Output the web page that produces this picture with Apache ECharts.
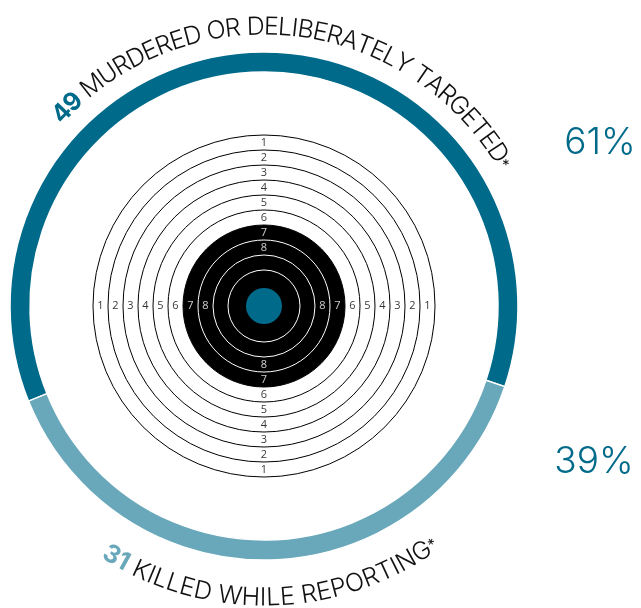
<!DOCTYPE html>
<html>
<head>
<meta charset="utf-8">
<script src="https://cdn.jsdelivr.net/npm/echarts@6/dist/echarts.min.js"></script>
<style>
html,body{margin:0;padding:0;background:#fff;}
#chart{width:641px;height:608px;}
</style>
</head>
<body>
<div id="chart"></div>
<script>
// ---- data ----
const categories = ['MURDERED OR DELIBERATELY TARGETED', 'KILLED WHILE REPORTING'];
const counts = [49, 31];
const ringLabels = ['1', '2', '3', '4', '5', '6', '7', '8'];
const labelAngles = [0, 90, 180, 270];

// ---- style ----
const DARK = '#006a8a';
const LIGHT = '#69a8ba';
const FONT = "Inter, 'Liberation Sans', Arial, sans-serif";
const CX = 264, CY = 306;

const total = counts.reduce((a, b) => a + b, 0);
const percents = counts.map(c => Math.round(c / total * 100) + '%');

const chart = echarts.init(document.getElementById('chart'), null, {renderer: 'canvas'});

const mctx = document.createElement('canvas').getContext('2d');
function arcText(segs, cx, cy, rMid, a0, a1, outward) {
  const items = [];
  let tot = 0;
  segs.forEach(s => {
    s.font = (s.weight || 300) + ' ' + s.size + 'px ' + FONT;
    mctx.font = s.font;
    s.chars = Array.from(s.text).map(ch => ({ch, w: mctx.measureText(ch).width}));
    s.chars.forEach(c => tot += c.w);
  });
  const k = (a1 - a0) * Math.PI / 180 / tot;
  let acc = 0;
  segs.forEach(s => s.chars.forEach(c => {
    const th = a0 * Math.PI / 180 + (acc + c.w / 2) * k;
    acc += c.w;
    if (c.ch === ' ') return;
    const rr = rMid + (s.dr || 0);
    items.push({
      type: 'text', silent: true, z: 10,
      x: cx + rr * Math.cos(th), y: cy - rr * Math.sin(th),
      rotation: outward ? th - Math.PI / 2 : th + Math.PI / 2,
      style: {text: c.ch, font: s.font, fill: s.color,
        align: 'center', verticalAlign: 'middle', textAlign: 'center', textVerticalAlign: 'middle'}
    });
  }));
  return items;
}

const topText = arcText([
  {text: String(counts[0]), size: 25, weight: 700, color: DARK},
  {text: ' ' + categories[0], size: 25, weight: 300, color: '#111'},
  {text: '*', size: 15, weight: 400, color: '#111', dr: -1}
], CX, CY, 279, 138, 30, true);

const bottomText = arcText([
  {text: String(counts[1]), size: 25, weight: 700, color: LIGHT},
  {text: ' ' + categories[1], size: 25, weight: 300, color: '#111'},
  {text: '*', size: 15, weight: 400, color: '#111', dr: 0}
], CX, CY, 292, 237, 306, false);

const labelData = [];
ringLabels.forEach((lab, i) => {
  labelAngles.forEach(a => {
    labelData.push({
      value: [8.5 - i, a, i],
      label: {color: i >= 6 ? '#fff' : '#000'}
    });
  });
});

const lineColors = ['#fff', '#fff', '#fff', '#000', '#000', '#000', '#000', '#000', '#000', '#000'];

chart.setOption({
  animation: false,
  polar: {center: [CX, CY], radius: [36, 171]},
  radiusAxis: {
    type: 'value', min: 0, max: 9, interval: 1, z: 5,
    axisLine: {show: false}, axisTick: {show: false}, axisLabel: {show: false},
    splitLine: {show: true, lineStyle: {color: lineColors, width: 1}}
  },
  angleAxis: {
    type: 'value', min: 0, max: 360, startAngle: 90,
    axisLine: {show: false}, axisTick: {show: false}, axisLabel: {show: false},
    splitLine: {show: false}
  },
  series: [
    {
      type: 'pie', center: [CX, CY], radius: [234, 254], startAngle: 202, clockwise: true,
      silent: true, label: {show: false}, labelLine: {show: false},
      itemStyle: {borderColor: '#fff', borderWidth: 1.5},
      data: counts.map((v, i) => ({name: categories[i], value: v, itemStyle: {color: i === 0 ? DARK : LIGHT}})),
      z: 2
    },
    {
      type: 'pie', center: [CX, CY], radius: [0, 81], silent: true,
      label: {show: false}, labelLine: {show: false},
      data: [{value: 1, itemStyle: {color: '#000'}}], z: 1
    },
    {
      type: 'pie', center: [CX, CY], radius: [0, 18], silent: true,
      label: {show: false}, labelLine: {show: false},
      data: [{value: 1, itemStyle: {color: DARK}}], z: 8
    },
    {
      type: 'scatter', coordinateSystem: 'polar', symbolSize: 0, silent: true, z: 9,
      label: {show: true, position: 'inside', fontSize: 11, fontFamily: "'Open Sans', sans-serif",
        formatter: p => ringLabels[p.data.value[2]]},
      data: labelData
    }
  ],
  graphic: topText.concat(bottomText).concat([
    {type: 'text', silent: true, x: 600, y: 143,
      style: {text: percents[0], font: '300 37px ' + FONT, fill: DARK, align: 'center', verticalAlign: 'middle', textAlign: 'center', textVerticalAlign: 'middle'}},
    {type: 'text', silent: true, x: 594, y: 462,
      style: {text: percents[1], font: '300 37px ' + FONT, fill: DARK, align: 'center', verticalAlign: 'middle', textAlign: 'center', textVerticalAlign: 'middle'}}
  ])
});
</script>
</body>
</html>
